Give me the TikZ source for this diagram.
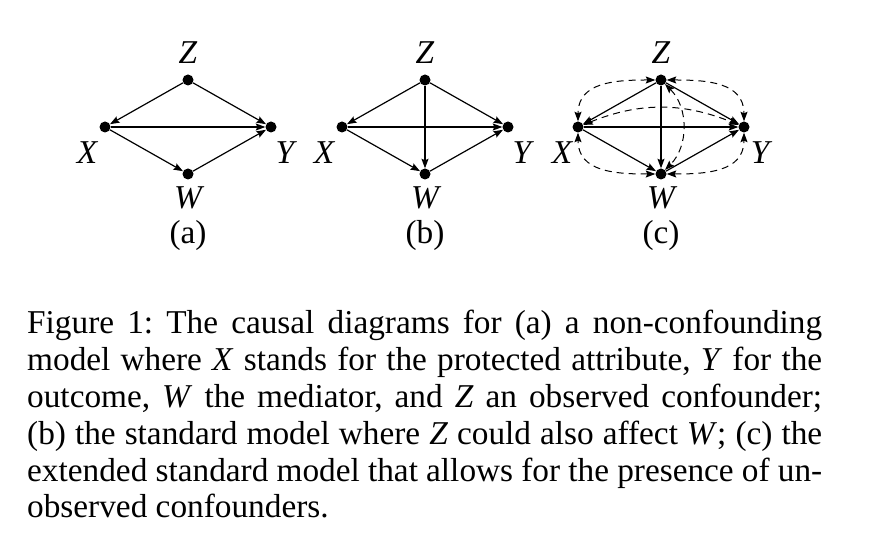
\documentclass[tikz,border=0pt]{standalone}
\usepackage{fontspec}
\setmainfont{Liberation Serif}
\usetikzlibrary{arrows.meta,positioning}
\frenchspacing

\begin{document}
\begin{tikzpicture}[x=1bp,y=1bp,node distance=47bp and 83bp,on grid,
    >={Stealth[length=9.5bp,width=7bp,inset=1.5bp]}]
  \tikzstyle{dot}=[circle,fill=black,inner sep=0pt,minimum size=11bp]
  \tikzstyle{var}=[inner sep=0pt,font=\fontsize{33.3bp}{36.8bp}\selectfont\itshape]
  \tikzstyle{tag}=[inner sep=0pt,font=\fontsize{33.3bp}{36.8bp}\selectfont]
  \tikzstyle{arc}=[line width=1.2bp,->]
  \tikzstyle{bidir}=[line width=1bp,dash pattern=on 7bp off 5bp,<->]
  \useasboundingbox (0,0) rectangle (880,548);

  % (a) non-confounding model
  \node[dot] (za) at (188,468) {};
  \node[dot,below left=of za] (xa) {};
  \node[dot,below right=of za] (ya) {};
  \node[dot,below=94bp of za] (wa) {};
  \node[var,above=27bp of za] (lza) {Z};
  \node[var,below left=26bp and 18bp of xa] (lxa) {X};
  \node[var,below right=26bp and 14bp of ya] (lya) {Y};
  \node[var,below=24bp of wa] (lwa) {W};
  \node[tag,below=61bp of wa] (ta) {(a)};
  \draw[arc] (za) -- (xa);
  \draw[arc] (za) -- (ya);
  \draw[arc] (xa) -- (ya);
  \draw[arc] (xa) -- (wa);
  \draw[arc] (wa) -- (ya);

  % (b) standard model
  \node[dot] (zb) at (425,468) {};
  \node[dot,below left=of zb] (xb) {};
  \node[dot,below right=of zb] (yb) {};
  \node[dot,below=94bp of zb] (wb) {};
  \node[var,above=27bp of zb] (lzb) {Z};
  \node[var,below left=26bp and 18bp of xb] (lxb) {X};
  \node[var,below right=26bp and 14bp of yb] (lyb) {Y};
  \node[var,below=24bp of wb] (lwb) {W};
  \node[tag,below=61bp of wb] (tb) {(b)};
  \draw[arc] (zb) -- (xb);
  \draw[arc] (zb) -- (yb);
  \draw[arc] (zb) -- (wb);
  \draw[arc] (xb) -- (yb);
  \draw[arc] (xb) -- (wb);
  \draw[arc] (wb) -- (yb);

  % (c) extended standard model
  \node[dot] (zc) at (661,468) {};
  \node[dot,below left=of zc] (xc) {};
  \node[dot,below right=of zc] (yc) {};
  \node[dot,below=94bp of zc] (wc) {};
  \node[var,above=27bp of zc] (lzc) {Z};
  \node[var,below left=26bp and 16bp of xc] (lxc) {X};
  \node[var,below right=26bp and 16bp of yc] (lyc) {Y};
  \node[var,below=24bp of wc] (lwc) {W};
  \node[tag,below=61bp of wc] (tc) {(c)};
  \draw[arc] (zc) -- (xc);
  \draw[arc] (zc) -- (yc);
  \draw[arc] (zc) -- (wc);
  \draw[arc] (xc) -- (yc);
  \draw[arc] (xc) -- (wc);
  \draw[arc] (wc) -- (yc);
  \draw[bidir] (zc) to[out=180,in=90,looseness=1.15] (xc);
  \draw[bidir] (zc) to[out=0,in=90,looseness=1.15] (yc);
  \draw[bidir] (wc) to[out=180,in=-90,looseness=1.15] (xc);
  \draw[bidir] (wc) to[out=0,in=-90,looseness=1.15] (yc);
  \draw[bidir] (xc) to[bend left=22] (yc);
  \draw[bidir] (zc) to[bend left=45] (wc);

  % caption
  \node[tag,text width=795bp,align=justify,anchor=base west] (cap) at (27,214)
    {Figure 1: The causal diagrams for (a) a non-confounding\linebreak
     model where \textit{X} stands for the protected attribute, \textit{Y} for the\linebreak
     outcome, \textit{W} the mediator, and \textit{Z} an observed confounder;\linebreak
     (b) the standard model where \textit{Z} could also affect \textit{W}\/; (c) the\linebreak
     extended standard model that allows for the presence of un-\linebreak
     observed confounders.};
\end{tikzpicture}
\end{document}
